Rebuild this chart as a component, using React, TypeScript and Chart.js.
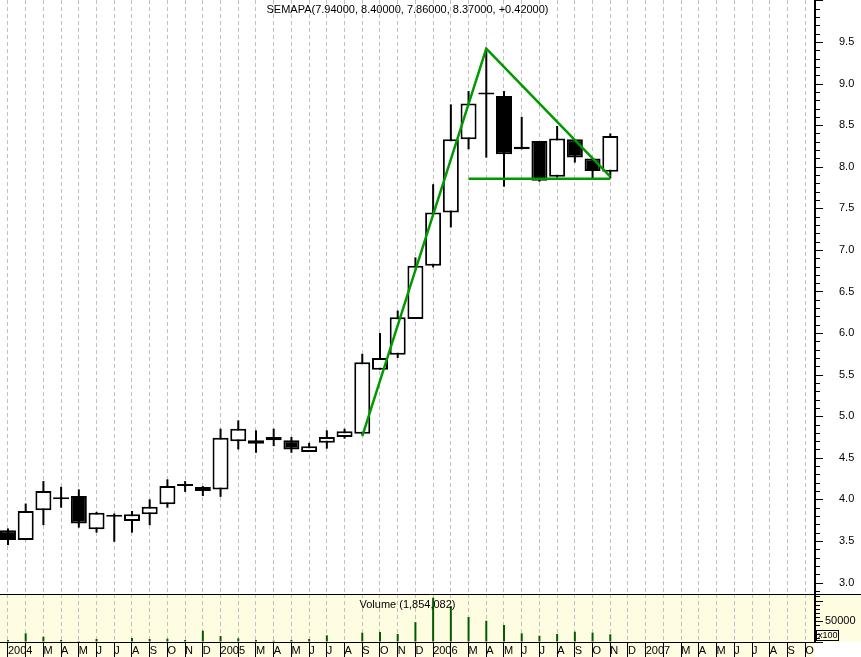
import React, { useEffect, useRef } from 'react';
import { Chart, registerables } from 'chart.js';

Chart.register(...registerables);

// ---- data (monthly candles, Jan 2004 .. Nov 2006) ----
const OPEN = [3.63, 3.51, 3.87, 4.0, 4.04, 3.64, 3.79, 3.74, 3.82, 3.94, 4.175, 4.15,
  4.12, 4.7, 4.67, 4.71, 4.71, 4.57, 4.68, 4.75, 4.79, 5.56, 5.74, 6.17,
  6.81, 7.45, 8.33, 8.89, 8.85, 8.21, 8.31, 7.88, 8.33, 8.1, 7.94];
const HIGH = [3.65, 3.95, 4.22, 4.15, 4.12, 3.85, 3.83, 3.86, 4.0, 4.24, 4.22, 4.16,
  4.85, 4.95, 4.83, 4.85, 4.75, 4.68, 4.83, 4.85, 5.75, 6.0, 6.27, 6.91,
  7.79, 8.75, 8.91, 9.4, 8.91, 8.6, 8.31, 8.49, 8.33, 8.1, 8.4];
const LOW = [3.45, 3.51, 3.69, 3.9, 3.66, 3.6, 3.49, 3.6, 3.69, 3.9, 4.09, 4.04,
  4.03, 4.6, 4.56, 4.64, 4.56, 4.57, 4.61, 4.73, 4.78, 5.56, 5.7, 6.17,
  6.79, 7.27, 8.21, 8.11, 7.76, 8.21, 7.82, 7.87, 8.05, 7.86, 7.86];
const CLOSE = [3.51, 3.86, 4.1, 4.0, 3.71, 3.84, 3.79, 3.82, 3.91, 4.16, 4.16, 4.1,
  4.74, 4.85, 4.71, 4.75, 4.6, 4.64, 4.75, 4.82, 5.65, 5.7, 6.19, 6.81,
  7.45, 8.33, 8.76, 8.87, 8.15, 8.24, 7.83, 8.34, 8.11, 7.95, 8.37];
// volume in units of x100
const VOLUME = [4800, 21000, 12800, 4800, 2400, 7200, 1200, 9700, 7200, 8000, 4800, 27300,
  14500, 8900, 4800, 3200, 4800, 7200, 16100, 1200, 22500, 24200, 19300, 48000,
  107000, 86900, 60400, 51400, 41100, 21000, 15200, 19300, 24900, 22500, 18541];

// trend lines drawn on the chart (month index, price)
const TREND_LINE = [{ x: 20, y: 4.76 }, { x: 27, y: 9.42 }, { x: 34, y: 7.88 }];
const SUPPORT_LINE = [{ x: 26, y: 7.855 }, { x: 34, y: 7.855 }];

// x-axis tick labels Jan 2004 .. Oct 2007
const X_LABELS = [
  '2004', '', 'M', 'A', 'M', 'J', 'J', 'A', 'S', 'O', 'N', 'D',
  '2005', '', 'M', 'A', 'M', 'J', 'J', 'A', 'S', 'O', 'N', 'D',
  '2006', '', 'M', 'A', 'M', 'J', 'J', 'A', 'S', 'O', 'N', 'D',
  '2007', '', 'M', 'A', 'M', 'J', 'J', 'A', 'S', 'O',
];

const TITLE = 'SEMAPA(7.94000, 8.40000, 7.86000, 8.37000, +0.42000)';
const VOLUME_TITLE = 'Volume (1,854,082)';
const VOLUME_LABELS = [50000];

const FONT = '"Liberation Sans", Arial, Helvetica, sans-serif';
const GRID_COLOR = '#c0c0c0';
const CREAM = '#fffde1';
const GREEN = '#009a00';
const VOL_GREEN = '#005c00';
const X_MIN = -0.45;
const X_MAX = 45.556;
const W = 861;
const PRICE_H = 594;
const VOL_H = 63;
const AXIS_W = 46;

function xScale(withLabels: boolean): any {
  return {
    type: 'linear',
    min: X_MIN,
    max: X_MAX,
    offset: false,
    afterFit: (s: any) => {
      s.height = withLabels ? 15 : 0;
      s.paddingLeft = 0;
      s.paddingRight = 0;
      s.paddingTop = 0;
      s.paddingBottom = 0;
    },
    ticks: {
      display: withLabels,
      stepSize: 1,
      includeBounds: false,
      autoSkip: false,
      maxRotation: 0,
      minRotation: 0,
      align: 'start',
      padding: -13,
      color: '#000',
      font: { family: FONT, size: 11 },
      callback: (v: number) => X_LABELS[Math.round(v)] ?? '',
    },
    grid: {
      offset: false,
      color: GRID_COLOR,
      lineWidth: 1,
      drawOnChartArea: true,
      drawTicks: withLabels,
      tickLength: 15,
      tickColor: '#000',
      tickWidth: 1,
      tickBorderDash: [],
    },
    border: { display: withLabels, color: '#000', width: 1, dash: [4, 3] },
  };
}

function yFit(s: any) {
  s.width = AXIS_W;
  s.paddingTop = 0;
  s.paddingBottom = 0;
  s.paddingLeft = 0;
  s.paddingRight = 0;
}

function minorTicksPlugin(step: number, majorEvery: number, majorLen: number, minorLen: number) {
  return {
    id: 'minorTicks',
    afterDraw(chart: any) {
      const s = chart.scales.y;
      const ctx = chart.ctx;
      ctx.save();
      ctx.strokeStyle = '#000';
      ctx.lineWidth = 1;
      const start = Math.ceil(s.min / step - 1e-9);
      const end = Math.floor(s.max / step + 1e-9);
      for (let k = start; k <= end; k++) {
        const y = Math.round(s.getPixelForValue(k * step)) + 0.5;
        const len = k % majorEvery === 0 ? majorLen : minorLen;
        ctx.beginPath();
        ctx.moveTo(s.left, y);
        ctx.lineTo(s.left + 1 + len, y);
        ctx.stroke();
      }
      ctx.restore();
    },
  };
}

export default function App() {
  const priceRef = useRef<HTMLCanvasElement>(null);
  const volRef = useRef<HTMLCanvasElement>(null);

  useEffect(() => {
    if (!priceRef.current || !volRef.current) return;

    const bodies = OPEN.map((o, i) => ({ x: i, y: [o, CLOSE[i]] }));
    const wicks = LOW.map((l, i) => ({ x: i, y: [l, HIGH[i]] }));
    const bodyColors = OPEN.map((o, i) => (CLOSE[i] < o ? '#000' : '#fff'));

    const priceChart = new Chart(priceRef.current, {
      type: 'bar',
      data: {
        datasets: [
          { type: 'line', data: TREND_LINE, borderColor: GREEN, borderWidth: 2.5, pointRadius: 0, fill: false, tension: 0 } as any,
          { type: 'line', data: SUPPORT_LINE, borderColor: GREEN, borderWidth: 2.5, pointRadius: 0, fill: false, tension: 0 } as any,
          {
            type: 'bar', data: bodies as any, backgroundColor: bodyColors, borderColor: '#000', borderWidth: 2,
            borderSkipped: false, barThickness: 16, minBarLength: 2, grouped: false, inflateAmount: 0,
          } as any,
          {
            type: 'bar', data: wicks as any, backgroundColor: '#000', borderWidth: 0,
            barThickness: 2, grouped: false, inflateAmount: 0,
          } as any,
        ],
      },
      options: {
        responsive: false,
        animation: false,
        events: [],
        layout: { padding: 0, autoPadding: false },
        plugins: { legend: { display: false }, tooltip: { enabled: false }, title: { display: false } },
        scales: {
          x: xScale(false),
          y: {
            type: 'linear',
            position: 'right',
            min: 2.862,
            max: 10.005,
            beginAtZero: false,
            afterFit: yFit,
            ticks: {
              stepSize: 0.5,
              includeBounds: false,
              autoSkip: false,
              padding: 24,
              crossAlign: 'near',
              color: '#000',
              font: { family: FONT, size: 11 },
              callback: (v: any) => (Number(v) > 9.9 ? '' : Number(v).toFixed(1)),
            },
            grid: { drawOnChartArea: false, drawTicks: false },
            border: { display: true, color: '#000', width: 2 },
          } as any,
        },
      } as any,
      plugins: [
        {
          id: 'bg',
          beforeDraw(chart: any) {
            const ctx = chart.ctx;
            ctx.save();
            ctx.fillStyle = '#fff';
            ctx.fillRect(0, 0, chart.width, chart.height);
            ctx.restore();
          },
        },
        minorTicksPlugin(0.1, 5, 7, 4),
        {
          id: 'titleText',
          afterDraw(chart: any) {
            const ctx = chart.ctx;
            const a = chart.chartArea;
            ctx.save();
            ctx.fillStyle = '#000';
            ctx.font = `11px ${FONT}`;
            ctx.textAlign = 'center';
            ctx.textBaseline = 'middle';
            ctx.fillText(TITLE, (a.left + a.right) / 2, 10);
            ctx.restore();
          },
        },
      ] as any,
    });

    const volChart = new Chart(volRef.current, {
      type: 'bar',
      data: {
        datasets: [
          {
            data: VOLUME.map((v, i) => ({ x: i, y: v })) as any,
            backgroundColor: VOL_GREEN,
            borderWidth: 0,
            barThickness: 2,
            grouped: false,
            inflateAmount: 0,
          } as any,
        ],
      },
      options: {
        responsive: false,
        animation: false,
        events: [],
        layout: { padding: 0, autoPadding: false },
        plugins: { legend: { display: false }, tooltip: { enabled: false }, title: { display: false } },
        scales: {
          x: xScale(true),
          y: {
            type: 'linear',
            position: 'right',
            min: 0,
            max: 116000,
            afterFit: yFit,
            ticks: { display: false, stepSize: 50000 },
            grid: { drawOnChartArea: false, drawTicks: false },
            border: { display: true, color: '#000', width: 2 },
          } as any,
        },
      } as any,
      plugins: [
        {
          id: 'volBg',
          beforeDraw(chart: any) {
            const ctx = chart.ctx;
            const a = chart.chartArea;
            ctx.save();
            ctx.fillStyle = '#fff';
            ctx.fillRect(0, 0, chart.width, chart.height);
            ctx.fillStyle = CREAM;
            ctx.fillRect(0, 0, a.right, chart.height);
            ctx.fillRect(a.right, 0, chart.width - a.right, a.bottom);
            ctx.restore();
          },
        },
        minorTicksPlugin(10000, 5, 7, 4),
        {
          id: 'volDecor',
          afterDraw(chart: any) {
            const ctx = chart.ctx;
            const a = chart.chartArea;
            const ys = chart.scales.y;
            ctx.save();
            ctx.strokeStyle = '#000';
            ctx.lineWidth = 1;
            ctx.beginPath();
            ctx.moveTo(0, 0.5);
            ctx.lineTo(chart.width, 0.5);
            ctx.stroke();
            ctx.fillStyle = '#000';
            ctx.font = `11px ${FONT}`;
            ctx.textAlign = 'center';
            ctx.textBaseline = 'middle';
            ctx.fillText(VOLUME_TITLE, (a.left + a.right) / 2, 11);
            // axis label(s)
            ctx.textAlign = 'left';
            for (const v of VOLUME_LABELS) {
              ctx.fillText(String(v), ys.left + 10, ys.getPixelForValue(v));
            }
            // multiplier box
            ctx.strokeRect(a.right + 1.5, 36.5, 22, 10);
            ctx.font = `9px ${FONT}`;
            ctx.fillText('x100', a.right + 3, 42);
            ctx.restore();
          },
        },
      ] as any,
    });

    return () => {
      priceChart.destroy();
      volChart.destroy();
    };
  }, []);

  return (
    <div style={{ position: 'absolute', left: 0, top: 0, width: W, height: PRICE_H + VOL_H, background: '#fff' }}>
      <canvas ref={priceRef} width={W} height={PRICE_H} style={{ position: 'absolute', left: 0, top: 0, display: 'block' }} />
      <canvas ref={volRef} width={W} height={VOL_H} style={{ position: 'absolute', left: 0, top: PRICE_H, display: 'block' }} />
    </div>
  );
}
